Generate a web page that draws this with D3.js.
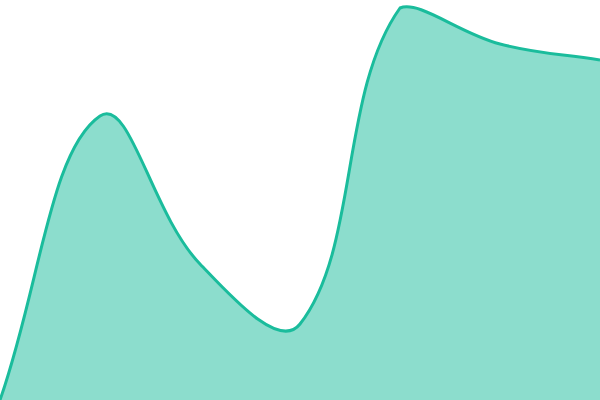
<!DOCTYPE html>
<html><head><meta charset="utf-8">
<script src="https://cdn.jsdelivr.net/npm/d3@7"></script>
<style>html,body{margin:0;padding:0;background:#fff;overflow:hidden}</style>
</head><body>
<svg id="chart" width="600" height="400"></svg>
<script>
const categories = ["A", "B", "C", "D", "E", "F", "G"];
const values = [0, 71, 34, 19, 98, 89, 85];

const W = 600, H = 400;
const svg = d3.select("#chart");
const x = d3.scalePoint().domain(categories).range([0, W]);
const y = d3.scaleLinear().domain([0, 100]).range([H, 0]);
const data = categories.map((c, i) => ({c, v: values[i]}));

// Spline with distance-weighted control points (tension 0.4), control points capped to the plot area
function splineCurve(tension, x0, x1, y0, y1) {
  function Curve(ctx) { this._context = ctx; }
  Curve.prototype = {
    areaStart() { this._line = 0; },
    areaEnd() { this._line = NaN; },
    lineStart() { this._pts = []; },
    point(px, py) { this._pts.push([+px, +py]); },
    lineEnd() {
      const p = this._pts, n = p.length, ctx = this._context;
      if (!n) return;
      const cap = (v, a, b) => Math.max(Math.min(v, b), a);
      const cps = p.map((cur, i) => {
        const prev = p[i - 1] || cur, next = p[i + 1] || cur;
        const d01 = Math.hypot(cur[0] - prev[0], cur[1] - prev[1]);
        const d12 = Math.hypot(next[0] - cur[0], next[1] - cur[1]);
        let s01 = d01 / (d01 + d12), s12 = d12 / (d01 + d12);
        if (!isFinite(s01)) s01 = 0;
        if (!isFinite(s12)) s12 = 0;
        const fa = tension * s01, fb = tension * s12;
        const dx = next[0] - prev[0], dy = next[1] - prev[1];
        return {
          px: cap(cur[0] - fa * dx, x0, x1), py: cap(cur[1] - fa * dy, y0, y1),
          nx: cap(cur[0] + fb * dx, x0, x1), ny: cap(cur[1] + fb * dy, y0, y1)
        };
      });
      if (this._line) ctx.lineTo(p[0][0], p[0][1]); else ctx.moveTo(p[0][0], p[0][1]);
      for (let i = 1; i < n; i++) {
        ctx.bezierCurveTo(cps[i - 1].nx, cps[i - 1].ny, cps[i].px, cps[i].py, p[i][0], p[i][1]);
      }
      if (this._line || (this._line !== 0 && n === 1)) ctx.closePath();
      this._line = 1 - this._line;
    }
  };
  return ctx => new Curve(ctx);
}
const curve = splineCurve(0.4, 0, W, 0, H);

const area = d3.area().x(d => x(d.c)).y0(y(0)).y1(d => y(d.v)).curve(curve);
const line = d3.line().x(d => x(d.c)).y(d => y(d.v)).curve(curve);

svg.append("path").datum(data).attr("d", area).attr("fill", "rgba(26,188,156,0.5)");
svg.append("path").datum(data).attr("d", line).attr("fill", "none").attr("stroke", "#1abc9c").attr("stroke-width", 3);
</script>
</body></html>
